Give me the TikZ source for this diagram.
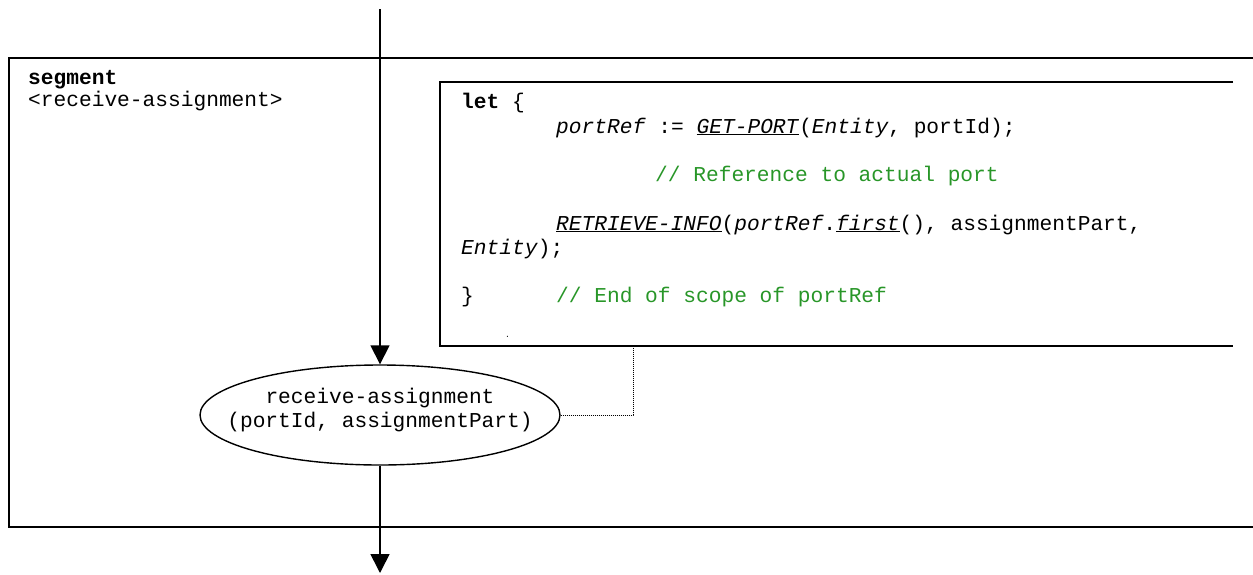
\documentclass[tikz,border=0pt]{standalone}
\usepackage{fontspec}
\setmainfont{Liberation Mono}
\usetikzlibrary{arrows.meta,shapes.geometric}
\definecolor{codegreen}{RGB}{40,150,40}
\begin{document}
\frenchspacing
\begin{tikzpicture}[x=1pt,y=-1pt,
  txt/.style={inner sep=0pt, anchor=base west, font=\fontsize{21.2}{24}\selectfont},
  ctxt/.style={txt, anchor=base},
  cmt/.style={txt, text=codegreen},
  frame/.style={line width=1.6pt},
  arr/.style={line width=1.6pt, -{Triangle[length=19pt,width=19pt]}},
  dotline/.style={line width=1pt, dash pattern=on 1pt off 1pt}]
\useasboundingbox (0,0) rectangle (1253,574);
% outer frame
\draw[frame] (1253,58) -- (9,58) -- (9,527) -- (1253,527);
% inner box
\draw[frame] (1233,82) -- (440,82) -- (440,346) -- (1233,346);
% texts
\node[txt] (seg) at (28,84) {\textbf{segment}};
\node[txt] (segname) at (28,106) {<receive-assignment>};
\node[txt] (let) at (461,108) {\textbf{let} \{};
\node[txt] (l1) at (556,133) {\textit{portRef} := \underline{\textit{GET-PORT}}(\textit{Entity}, portId);};
\node[cmt] (l2) at (655,181) {// Reference to actual port};
\node[txt] (l3) at (556,230) {\underline{\textit{RETRIEVE-INFO}}(\textit{portRef}.\underline{\textit{first}}(), assignmentPart,};
\node[txt] (l4) at (461,254) {\textit{Entity});};
\node[txt] (l5) at (461,302) {\}};
\node[cmt] (l6) at (556,302) {// End of scope of portRef};
\node[txt, font=\fontsize{8}{8}\selectfont] (l7) at (505,337) {.};
% process ellipse
\node[draw, ellipse, line width=1.4pt, minimum width=360pt, minimum height=100pt, inner sep=0pt] (proc) at (380,415) {};
\node[ctxt] (pl1) at (380,403) {receive-assignment};
\node[ctxt] (pl2) at (380,427) {(portId, assignmentPart)};
% connectors
\coordinate (top) at (380,9);
\coordinate (bot) at (380,573);
\coordinate (boxb) at (633,346);
\draw[arr] (top) -- (proc.north);
\draw[arr] (proc.south) -- (bot);
\draw[dotline] (proc.east) -| (boxb);
\end{tikzpicture}
\end{document}
